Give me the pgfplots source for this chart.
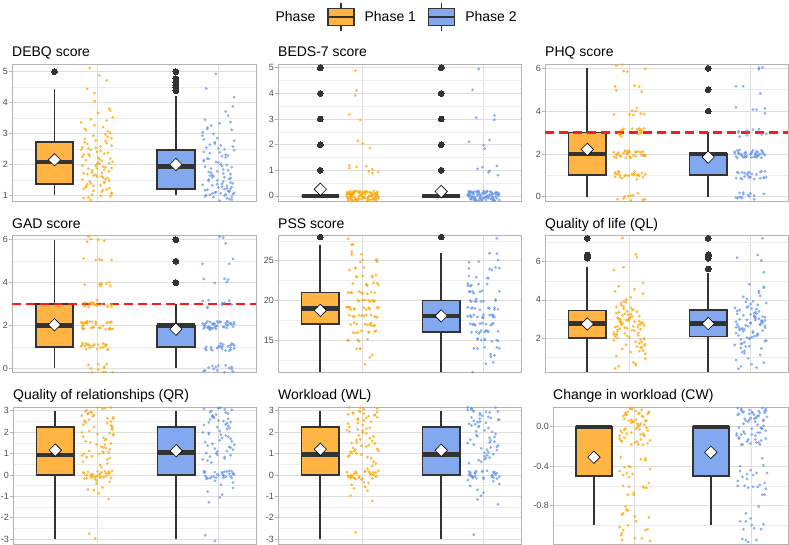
\documentclass[border=0pt]{standalone}
\usepackage{pgfplots}
\pgfplotsset{compat=1.18}
\usepackage{pgfplotstable}
\usepgfplotslibrary{statistics}
\usepackage{fontspec}
\setmainfont{Liberation Sans}
\definecolor{boxc}{HTML}{333333}
\definecolor{orb}{HTML}{FFB443}
\definecolor{blb}{HTML}{82A8F0}
\definecolor{orp}{HTML}{FFA500}
\definecolor{blp}{HTML}{6495ED}
\definecolor{gridc}{HTML}{DEDEDE}
\definecolor{mgridc}{HTML}{ECECEC}
\definecolor{bordc}{HTML}{B3B3B3}
\definecolor{tickc}{HTML}{4D4D4D}
\definecolor{redl}{HTML}{FF1A1A}

% horizontal jitter offsets
\pgfplotstableread[row sep=\\]{dx\\
-0.11\\0.04\\0.12\\-0.03\\0.08\\-0.07\\0.01\\0.10\\-0.12\\0.06\\
-0.01\\0.09\\-0.09\\0.03\\-0.05\\0.11\\-0.02\\0.07\\-0.10\\0.00\\
0.05\\-0.08\\0.12\\-0.04\\0.02\\-0.11\\0.09\\-0.06\\0.10\\-0.03\\
0.06\\-0.12\\0.01\\0.08\\-0.07\\0.04\\-0.09\\0.11\\-0.01\\0.03\\
-0.10\\0.07\\-0.05\\0.12\\-0.02\\0.05\\-0.08\\0.00\\0.10\\-0.13\\
0.02\\-0.06\\0.09\\-0.04\\0.13\\-0.11\\0.06\\-0.01\\0.08\\-0.09\\
0.03\\-0.07\\0.11\\-0.03\\0.01\\-0.12\\0.07\\-0.05\\0.04\\0.10\\
-0.08\\0.00\\0.12\\-0.10\\0.05\\-0.02\\0.09\\-0.06\\0.02\\-0.11\\
0.08\\-0.04\\0.13\\-0.09\\0.06\\-0.01\\0.03\\-0.12\\0.11\\-0.07\\
0.00\\0.07\\-0.03\\0.10\\-0.08\\0.04\\-0.13\\0.05\\-0.05\\0.12\\
}\jda
\pgfplotstableread[row sep=\\]{dx\\
0.07\\-0.12\\0.02\\0.11\\-0.05\\0.09\\-0.09\\-0.01\\0.13\\-0.07\\
0.04\\-0.11\\0.08\\0.00\\-0.04\\0.12\\-0.08\\0.05\\-0.13\\0.10\\
-0.02\\0.06\\-0.10\\0.03\\0.11\\-0.06\\0.01\\-0.12\\0.09\\-0.03\\
0.12\\-0.08\\0.05\\-0.05\\0.08\\-0.11\\0.02\\0.10\\-0.01\\-0.09\\
0.06\\-0.04\\0.13\\-0.13\\0.03\\0.07\\-0.07\\0.11\\-0.02\\0.04\\
-0.10\\0.09\\-0.06\\0.01\\0.12\\-0.12\\0.05\\-0.03\\0.10\\0.00\\
-0.09\\0.08\\-0.05\\0.13\\-0.01\\0.06\\-0.11\\0.03\\-0.07\\0.11\\
0.02\\-0.13\\0.07\\-0.04\\0.09\\-0.08\\0.04\\0.12\\-0.10\\0.01\\
-0.06\\0.10\\-0.12\\0.05\\-0.02\\0.11\\-0.09\\0.07\\0.00\\-0.05\\
0.13\\-0.03\\0.08\\-0.11\\0.03\\-0.07\\0.06\\-0.01\\0.10\\-0.08\\
}\jdb
\newcommand\jcopy[2]{\pgfplotstablecreatecol[copy column from table={#2}{dx}]{dx}{#1}}

% DEBQ
\pgfplotstableread[row sep=\\]{y\\
2.31\\1.12\\2.85\\1.64\\3.42\\0.93\\2.07\\1.78\\2.56\\1.41\\
1.95\\3.08\\1.27\\2.44\\0.86\\2.19\\4.31\\1.53\\2.72\\1.88\\
3.21\\1.36\\2.61\\1.02\\2.03\\1.71\\2.38\\5.12\\1.47\\2.93\\
1.83\\2.25\\3.67\\1.19\\2.52\\1.62\\2.14\\0.97\\2.78\\1.33\\
3.15\\1.91\\2.47\\1.08\\4.05\\1.58\\2.66\\2.01\\1.24\\3.36\\
2.17\\1.45\\2.89\\1.74\\3.53\\0.91\\2.35\\1.67\\4.72\\1.29\\
2.58\\1.86\\3.02\\1.15\\2.22\\1.51\\2.97\\1.39\\2.12\\3.81\\
1.69\\2.41\\1.05\\2.83\\1.93\\3.27\\1.56\\2.28\\4.88\\1.21\\
2.69\\1.81\\2.09\\3.11\\1.43\\2.54\\0.99\\1.97\\3.74\\2.33\\
1.61\\2.76\\1.31\\2.05\\4.44\\1.73\\2.48\\1.17\\3.46\\1.89\\
}\debqa
\pgfplotstableread[row sep=\\]{y\\
1.23\\2.41\\1.07\\3.12\\1.58\\0.88\\2.19\\1.36\\2.77\\1.02\\
1.84\\3.45\\1.15\\2.06\\0.94\\2.58\\1.47\\1.21\\2.93\\1.69\\
1.11\\2.32\\4.46\\1.29\\1.91\\3.26\\0.83\\2.14\\1.53\\2.67\\
1.04\\1.76\\2.49\\1.33\\3.58\\0.97\\2.01\\1.42\\2.85\\1.18\\
2.23\\1.62\\1.08\\3.04\\1.95\\0.91\\2.37\\1.27\\4.93\\1.71\\
2.54\\1.14\\1.87\\3.33\\1.39\\2.11\\0.99\\2.72\\1.56\\1.25\\
3.19\\1.81\\1.06\\2.46\\1.49\\3.71\\1.17\\2.27\\1.64\\0.86\\
2.62\\1.34\\1.98\\2.99\\1.12\\2.18\\1.45\\3.88\\1.01\\2.39\\
1.74\\1.22\\2.81\\1.59\\2.08\\0.95\\3.15\\1.31\\2.52\\1.66\\
4.18\\1.09\\2.29\\1.93\\1.38\\2.64\\1.03\\1.78\\3.37\\1.51\\
}\debqb
% BEDS-7
\pgfplotstableread[row sep=\\]{y\\
0.12\\-0.07\\0.18\\1.08\\-0.15\\0.03\\-0.11\\0.16\\0.07\\-0.02\\
2.15\\-0.18\\0.09\\-0.04\\0.14\\-0.13\\0.01\\0.19\\0.94\\-0.09\\
0.06\\-0.16\\0.11\\-0.01\\3.18\\0.15\\-0.12\\0.04\\-0.06\\0.17\\
-0.19\\0.08\\1.13\\-0.03\\0.13\\-0.14\\0.02\\0.10\\-0.08\\0.19\\
3.92\\-0.17\\0.05\\-0.10\\0.16\\-0.05\\0.00\\1.19\\0.14\\-0.12\\
0.07\\-0.18\\1.87\\0.03\\-0.07\\0.11\\-0.15\\0.18\\-0.01\\0.09\\
-0.13\\0.05\\0.96\\-0.04\\0.15\\-0.11\\0.01\\0.12\\-0.16\\0.06\\
2.96\\-0.02\\0.17\\-0.09\\0.04\\1.04\\-0.19\\0.13\\-0.06\\0.10\\
0.02\\-0.14\\0.16\\4.12\\-0.08\\0.08\\-0.12\\0.19\\2.04\\-0.03\\
0.14\\1.16\\-0.17\\0.06\\-0.10\\0.11\\4.89\\-0.05\\0.18\\0.88\\
}\bedsa
\pgfplotstableread[row sep=\\]{y\\
-0.09\\0.14\\-0.03\\0.18\\-0.16\\0.07\\1.12\\-0.11\\0.02\\0.16\\
-0.06\\0.11\\-0.19\\0.05\\2.18\\-0.01\\0.13\\-0.14\\0.09\\-0.07\\
0.19\\-0.12\\0.04\\0.92\\-0.17\\0.10\\-0.04\\0.15\\-0.10\\0.01\\
3.05\\0.12\\-0.15\\0.06\\-0.02\\0.17\\-0.18\\0.08\\1.85\\-0.08\\
0.14\\-0.13\\0.03\\0.18\\-0.05\\1.06\\-0.16\\0.11\\-0.01\\0.07\\
-0.11\\0.16\\4.14\\-0.09\\0.02\\0.13\\-0.19\\0.09\\-0.06\\2.97\\
0.05\\-0.14\\0.17\\-0.03\\0.10\\0.81\\-0.12\\0.04\\-0.17\\0.15\\
-0.07\\0.19\\2.11\\-0.02\\0.08\\-0.15\\0.12\\-0.10\\0.00\\1.17\\
0.16\\-0.04\\0.06\\3.14\\-0.18\\0.14\\-0.08\\0.03\\-0.13\\0.11\\
1.98\\-0.05\\0.18\\-0.11\\0.07\\4.95\\-0.16\\0.01\\0.98\\0.13\\
}\bedsb
% PHQ
\pgfplotstableread[row sep=\\]{y\\
2.12\\0.93\\3.18\\-0.15\\2.03\\3.89\\1.16\\2.07\\5.98\\2.82\\
1.09\\1.96\\5.14\\1.87\\0.01\\3.19\\0.91\\2.06\\3.84\\1.11\\
1.99\\3.15\\-0.12\\1.04\\1.94\\6.17\\1.81\\1.08\\2.97\\2.13\\
3.86\\1.02\\2.10\\-0.08\\3.19\\1.83\\1.05\\4.90\\2.16\\2.95\\
1.00\\2.14\\-0.12\\2.07\\3.82\\1.03\\2.93\\2.11\\5.85\\1.18\\
1.99\\3.09\\0.87\\0.05\\1.96\\5.15\\1.89\\1.01\\3.12\\3.84\\
2.06\\0.98\\3.17\\1.91\\0.04\\0.81\\6.13\\1.94\\3.10\\0.92\\
4.02\\1.86\\0.16\\0.97\\2.08\\2.88\\5.19\\1.90\\1.06\\-0.17\\
3.11\\1.95\\1.14\\3.99\\2.03\\-0.15\\1.18\\2.93\\2.09\\5.87\\
1.05\\1.82\\3.12\\4.96\\0.07\\1.89\\4.15\\0.98\\3.01\\1.91\\
}\phqa
\pgfplotstableread[row sep=\\]{y\\
1.99\\2.09\\0.87\\0.05\\1.96\\3.15\\0.89\\2.01\\4.12\\1.84\\
1.06\\-0.02\\2.17\\1.91\\1.04\\1.81\\3.13\\-0.06\\2.10\\0.92\\
2.02\\0.86\\5.16\\1.97\\0.08\\0.88\\2.19\\1.90\\3.06\\0.83\\
0.11\\1.95\\1.14\\1.99\\6.03\\1.85\\1.18\\-0.07\\2.09\\2.87\\
2.05\\0.82\\2.12\\-0.04\\4.07\\1.89\\1.15\\1.98\\3.01\\0.91\\
1.12\\1.93\\0.18\\1.85\\2.03\\0.89\\5.16\\2.07\\-0.02\\1.82\\
3.09\\1.96\\1.14\\1.87\\0.01\\1.19\\1.91\\4.06\\1.84\\1.11\\
1.99\\0.15\\1.88\\6.04\\0.94\\2.17\\2.81\\2.08\\0.97\\0.13\\
0.86\\2.02\\2.10\\2.92\\0.19\\1.83\\1.05\\3.90\\2.16\\5.95\\
2.00\\1.14\\-0.12\\2.07\\4.82\\2.03\\2.93\\1.11\\1.85\\4.18\\
}\phqb
% GAD
\pgfplotstableread[row sep=\\]{y\\
1.86\\3.02\\1.10\\3.92\\2.19\\-0.17\\5.05\\2.90\\2.16\\0.95\\
6.00\\2.14\\2.88\\1.07\\-0.18\\2.03\\3.93\\1.11\\1.85\\3.18\\
-0.01\\1.09\\1.87\\5.05\\2.96\\2.15\\0.89\\0.01\\2.12\\3.84\\
1.06\\2.98\\2.17\\5.91\\1.04\\-0.19\\2.13\\2.94\\1.10\\1.92\\
4.02\\2.86\\1.16\\1.97\\5.08\\1.88\\0.19\\0.90\\3.06\\1.83\\
1.11\\5.95\\2.14\\2.99\\1.03\\3.85\\2.18\\-0.07\\2.09\\0.87\\
3.05\\1.82\\5.12\\0.96\\2.07\\2.89\\0.15\\1.98\\1.01\\3.91\\
2.12\\2.93\\1.18\\1.85\\6.03\\1.89\\1.16\\0.07\\2.98\\1.82\\
1.09\\3.96\\2.14\\0.87\\3.01\\0.19\\1.91\\5.06\\1.84\\1.11\\
2.99\\6.15\\1.88\\1.04\\3.94\\2.17\\-0.19\\3.08\\0.97\\2.13\\
}\gada
\pgfplotstableread[row sep=\\]{y\\
4.02\\1.86\\1.16\\2.97\\2.08\\4.88\\2.19\\-0.10\\1.06\\1.83\\
6.11\\1.95\\4.14\\0.99\\2.03\\-0.15\\3.18\\1.93\\2.09\\0.87\\
0.05\\0.82\\2.12\\2.96\\2.07\\0.89\\6.15\\1.98\\0.01\\1.91\\
1.12\\1.93\\4.18\\1.85\\1.03\\-0.11\\2.16\\1.07\\1.98\\2.82\\
2.09\\-0.04\\2.14\\4.87\\1.01\\2.19\\1.91\\0.06\\1.84\\1.11\\
0.99\\3.15\\1.88\\1.04\\1.94\\4.17\\-0.19\\2.08\\0.97\\2.13\\
2.86\\2.02\\0.10\\0.92\\2.19\\5.83\\2.05\\0.90\\2.16\\-0.05\\
1.00\\3.14\\1.88\\2.07\\0.82\\0.03\\1.93\\5.11\\0.85\\2.18\\
0.99\\2.09\\-0.13\\3.05\\1.96\\1.15\\1.89\\2.01\\0.12\\0.84\\
2.06\\3.98\\2.17\\0.91\\3.04\\1.81\\0.13\\0.94\\2.10\\1.92\\
}\gadb
% PSS
\pgfplotstableread[row sep=\\]{y\\
19.12\\16.93\\22.18\\14.85\\20.03\\17.89\\24.16\\16.07\\20.98\\12.82\\
18.09\\19.96\\26.14\\18.87\\17.01\\23.19\\13.91\\21.06\\18.84\\25.11\\
15.99\\22.15\\17.88\\20.04\\11.94\\19.17\\16.81\\24.08\\20.97\\18.13\\
19.86\\15.02\\19.10\\22.92\\17.19\\20.83\\27.05\\17.90\\16.16\\21.95\\
21.00\\18.14\\13.88\\19.07\\24.82\\20.03\\15.93\\23.11\\16.85\\19.18\\
16.99\\24.09\\19.87\\15.05\\21.96\\18.15\\18.89\\21.01\\13.12\\25.84\\
22.06\\18.98\\16.17\\19.91\\18.04\\27.81\\17.13\\22.94\\15.10\\19.92\\
18.02\\20.86\\25.16\\16.97\\19.08\\13.88\\22.19\\15.90\\20.06\\23.83\\
23.11\\15.95\\19.14\\20.99\\17.03\\25.85\\18.18\\14.93\\25.09\\18.87\\
20.05\\16.82\\21.12\\17.96\\27.07\\21.89\\19.15\\15.98\\23.01\\24.91\\
}\pssa
\pgfplotstableread[row sep=\\]{y\\
18.99\\16.09\\19.87\\17.05\\25.96\\21.15\\17.89\\15.01\\22.12\\23.84\\
22.06\\14.98\\18.17\\19.91\\16.04\\24.81\\17.13\\13.94\\24.10\\17.92\\
17.02\\19.86\\24.16\\15.97\\18.08\\12.88\\21.19\\14.90\\19.06\\22.83\\
21.11\\17.95\\15.14\\18.99\\17.03\\27.85\\16.18\\21.93\\14.09\\18.87\\
16.05\\22.82\\19.12\\13.96\\21.07\\16.89\\18.15\\19.98\\12.01\\24.91\\
20.12\\16.93\\13.18\\17.85\\24.03\\18.89\\15.16\\22.07\\15.98\\17.82\\
19.09\\13.96\\18.14\\21.87\\16.01\\20.19\\25.91\\17.06\\14.84\\21.11\\
14.99\\21.15\\16.88\\19.04\\10.94\\18.17\\15.81\\23.08\\19.97\\17.13\\
16.86\\19.02\\25.10\\17.92\\16.19\\21.83\\13.05\\19.90\\18.16\\23.95\\
18.00\\16.14\\20.88\\14.07\\18.82\\17.03\\22.93\\15.11\\19.85\\12.18\\
}\pssb
% QL
\pgfplotstableread[row sep=\\]{y\\
2.84\\1.62\\3.41\\2.17\\0.58\\3.02\\2.46\\4.13\\1.88\\2.69\\
3.27\\1.35\\2.91\\2.03\\4.56\\2.58\\1.74\\3.66\\0.92\\2.35\\
3.12\\2.76\\1.49\\3.88\\2.21\\6.24\\2.97\\1.95\\3.35\\2.62\\
0.41\\2.88\\3.54\\1.81\\2.49\\4.32\\2.11\\3.07\\1.27\\2.73\\
3.19\\2.39\\5.56\\1.68\\2.95\\3.72\\2.27\\1.06\\3.46\\2.55\\
2.81\\4.71\\1.57\\3.23\\2.07\\2.66\\3.91\\0.74\\2.44\\3.09\\
1.91\\2.99\\6.38\\2.31\\3.58\\1.43\\2.78\\4.02\\2.15\\3.31\\
2.52\\1.18\\3.83\\2.86\\0.53\\3.15\\2.24\\4.44\\1.79\\2.93\\
3.38\\2.61\\1.98\\5.71\\2.41\\3.63\\1.52\\2.71\\3.04\\0.66\\
2.19\\3.49\\2.83\\4.88\\1.65\\2.57\\7.24\\3.24\\2.01\\1.31\\
}\qla
\pgfplotstableread[row sep=\\]{y\\
2.71\\3.36\\1.84\\2.95\\4.21\\2.48\\0.63\\3.12\\2.26\\3.74\\
1.58\\2.83\\3.47\\2.09\\1.21\\4.63\\2.62\\3.01\\0.39\\2.77\\
3.28\\1.93\\2.54\\3.89\\2.34\\6.21\\1.46\\3.19\\2.88\\4.05\\
2.17\\0.85\\3.55\\2.69\\1.72\\3.08\\2.43\\5.45\\1.99\\3.31\\
2.58\\4.37\\1.33\\2.92\\3.66\\2.12\\0.52\\3.24\\2.79\\1.64\\
3.93\\2.36\\6.07\\2.66\\1.87\\3.42\\2.23\\4.82\\1.12\\2.98\\
3.17\\2.51\\0.71\\3.61\\2.05\\2.86\\4.47\\1.79\\3.05\\2.39\\
1.48\\3.79\\2.64\\2.14\\3.51\\0.94\\2.91\\4.16\\2.29\\3.26\\
2.73\\1.56\\3.83\\2.47\\6.35\\1.96\\3.14\\2.57\\4.69\\1.27\\
2.81\\3.39\\2.02\\7.22\\1.69\\2.94\\3.58\\0.46\\2.45\\3.09\\
}\qlb
% QR
\pgfplotstableread[row sep=\\]{y\\
0.08\\2.35\\-0.12\\1.47\\2.91\\0.15\\0.83\\-0.05\\2.62\\1.12\\
3.08\\-0.17\\0.54\\1.91\\0.02\\2.18\\-0.68\\1.03\\2.77\\0.11\\
-0.09\\1.62\\2.46\\0.36\\3.15\\-0.03\\0.97\\1.79\\-1.12\\2.24\\
0.19\\2.85\\1.28\\-0.14\\0.72\\2.53\\0.06\\1.95\\-0.41\\3.02\\
1.41\\-0.07\\2.69\\0.91\\0.13\\1.67\\-2.74\\2.31\\-0.19\\1.08\\
2.97\\0.04\\1.52\\-0.85\\2.12\\0.61\\-0.11\\2.81\\1.19\\0.17\\
-0.01\\2.42\\0.88\\1.86\\-0.26\\3.11\\0.09\\1.33\\2.58\\-0.15\\
0.47\\1.99\\-0.06\\2.73\\1.06\\0.14\\-0.58\\2.27\\1.57\\-0.02\\
2.93\\0.79\\0.12\\1.74\\-2.96\\2.49\\-0.16\\1.25\\3.14\\0.03\\
1.89\\-0.71\\2.64\\0.98\\-0.09\\2.05\\0.18\\1.43\\-0.32\\2.86\\
}\qra
\pgfplotstableread[row sep=\\]{y\\
-0.04\\2.51\\1.18\\0.13\\2.86\\-0.15\\1.62\\0.92\\3.09\\-0.08\\
2.23\\0.06\\1.37\\-0.92\\2.74\\0.17\\1.01\\2.41\\-0.11\\3.13\\
0.84\\1.91\\0.02\\2.67\\-0.46\\1.54\\0.19\\2.98\\-0.06\\1.23\\
2.36\\0.11\\-1.05\\1.78\\2.59\\-0.13\\0.67\\3.04\\1.09\\0.08\\
-0.18\\2.14\\1.46\\-0.61\\2.82\\0.15\\1.96\\-0.02\\2.47\\0.73\\
3.14\\-0.09\\1.31\\2.69\\0.04\\-2.81\\1.84\\0.94\\2.28\\-0.16\\
0.12\\2.93\\1.57\\-0.27\\2.05\\0.18\\1.12\\2.77\\-0.05\\1.69\\
-1.28\\2.54\\0.09\\1.02\\3.07\\-0.12\\2.19\\0.58\\1.88\\0.14\\
2.62\\-0.07\\1.41\\-0.78\\2.91\\0.03\\1.73\\2.33\\-0.14\\0.86\\
3.11\\0.16\\-3.08\\1.27\\2.45\\-0.01\\1.99\\0.77\\2.71\\-0.35\\
}\qrb
% WL
\pgfplotstableread[row sep=\\]{y\\
0.11\\2.42\\-0.08\\1.33\\2.87\\0.04\\0.95\\-0.13\\2.69\\1.18\\
3.06\\-0.02\\0.61\\1.84\\0.16\\2.25\\-0.55\\1.11\\2.81\\-0.17\\
0.07\\1.58\\2.39\\0.29\\3.13\\-0.06\\1.02\\1.71\\-0.97\\2.16\\
0.14\\2.93\\1.36\\-0.11\\0.78\\2.58\\0.01\\2.02\\-0.33\\2.98\\
1.47\\-0.15\\2.74\\0.86\\0.18\\1.63\\-1.21\\2.34\\-0.04\\1.14\\
2.95\\0.09\\1.49\\-0.74\\2.09\\0.53\\-0.19\\2.86\\1.26\\0.12\\
-0.07\\2.48\\0.91\\1.93\\-0.21\\3.09\\0.05\\1.39\\2.63\\-0.12\\
0.42\\2.07\\-0.03\\2.78\\1.01\\0.15\\-0.46\\2.21\\1.66\\-0.09\\
2.91\\0.83\\0.13\\1.79\\-2.68\\2.54\\-0.14\\1.22\\3.15\\0.02\\
1.97\\-0.63\\2.67\\1.08\\-0.16\\2.12\\0.19\\1.51\\-0.38\\2.83\\
}\wla
\pgfplotstableread[row sep=\\]{y\\
-0.06\\2.57\\1.24\\0.12\\2.92\\-0.14\\1.55\\0.87\\3.04\\-0.03\\
2.28\\0.08\\1.42\\-0.83\\2.71\\0.16\\0.97\\2.46\\-0.09\\3.11\\
0.79\\1.86\\0.03\\2.63\\-0.51\\1.61\\0.18\\2.96\\-0.11\\1.17\\
2.39\\0.13\\-1.14\\1.73\\2.52\\-0.17\\0.62\\3.07\\1.03\\0.06\\
-0.15\\2.19\\1.49\\-0.42\\2.88\\0.11\\2.01\\-0.04\\2.43\\0.69\\
3.14\\-0.08\\1.28\\2.76\\0.01\\-1.37\\1.81\\0.92\\2.31\\-0.18\\
0.14\\2.97\\1.52\\-0.24\\2.08\\0.17\\1.16\\2.82\\-0.02\\1.64\\
-0.97\\2.59\\0.07\\1.06\\3.01\\-0.13\\2.24\\0.55\\1.92\\0.15\\
2.66\\-0.05\\1.37\\-0.69\\2.94\\0.04\\1.77\\2.36\\-0.12\\0.81\\
3.16\\0.19\\-2.79\\1.31\\2.49\\-0.07\\2.04\\0.73\\2.68\\-0.29\\
}\wlb
% CW
\pgfplotstableread[row sep=\\]{y\\
0.12\\-0.57\\0.18\\-1.15\\0.03\\-0.11\\-0.34\\0.07\\-1.02\\-0.18\\
-0.41\\-0.04\\0.14\\-1.13\\0.01\\-0.31\\-0.09\\0.06\\-1.16\\0.11\\
-0.01\\-0.85\\-0.62\\0.04\\-0.06\\0.17\\-0.69\\-0.92\\-0.03\\0.13\\
-0.14\\0.02\\-0.40\\-0.08\\-0.81\\-0.17\\0.05\\-0.60\\0.16\\-1.05\\
-1.00\\0.14\\-0.12\\-0.43\\-0.18\\-0.47\\-0.07\\-0.89\\-0.15\\0.18\\
-0.01\\-0.41\\-1.13\\0.05\\-0.04\\0.15\\-0.61\\0.01\\-0.88\\-0.16\\
0.06\\-0.02\\-0.33\\-0.09\\-0.96\\-0.69\\0.13\\-0.06\\0.10\\-1.08\\
-0.48\\-0.14\\-0.84\\-0.03\\0.08\\-0.62\\0.19\\-1.10\\0.06\\-0.67\\
0.11\\-1.05\\0.14\\-0.51\\0.03\\-0.15\\-0.32\\-0.07\\-0.91\\-0.13\\
-0.45\\-0.18\\0.12\\-1.04\\0.07\\-0.61\\0.15\\-0.02\\-0.49\\-0.09\\
}\cwa
\pgfplotstableread[row sep=\\]{y\\
-0.01\\0.09\\-0.63\\0.05\\-1.04\\0.15\\-0.61\\0.01\\0.12\\-0.16\\
-0.44\\-0.02\\0.17\\-0.09\\-0.96\\-0.69\\0.13\\-0.06\\-0.40\\-0.08\\
0.02\\-1.14\\0.16\\-0.53\\0.08\\-0.12\\0.19\\-0.60\\0.06\\-1.17\\
0.11\\-0.55\\0.14\\-0.01\\0.03\\-1.15\\0.18\\-0.57\\0.09\\-0.13\\
-0.45\\-0.18\\-0.88\\-0.04\\0.07\\-0.61\\0.15\\-0.02\\-0.99\\-0.09\\
0.12\\-0.07\\-0.32\\-0.15\\-0.47\\-0.11\\0.16\\-0.93\\-0.02\\-0.18\\
0.09\\-1.04\\0.14\\-0.13\\-0.49\\0.19\\-0.59\\0.06\\-0.16\\-0.39\\
-0.51\\0.15\\-0.12\\-0.96\\-0.06\\0.17\\-0.69\\0.08\\-1.03\\0.13\\
-0.14\\-0.48\\0.10\\-0.08\\-0.81\\-0.17\\0.05\\-0.60\\0.16\\-0.05\\
-1.00\\0.14\\-0.62\\0.07\\-0.18\\-0.47\\-0.07\\0.11\\-1.15\\0.18\\
}\cwb

\jcopy{\debqa}{\jda}\jcopy{\debqb}{\jdb}
\jcopy{\bedsa}{\jdb}\jcopy{\bedsb}{\jda}
\jcopy{\phqa}{\jdb}\jcopy{\phqb}{\jda}
\jcopy{\gada}{\jda}\jcopy{\gadb}{\jdb}
\jcopy{\pssa}{\jda}\jcopy{\pssb}{\jdb}
\jcopy{\qla}{\jdb}\jcopy{\qlb}{\jda}
\jcopy{\qra}{\jdb}\jcopy{\qrb}{\jda}
\jcopy{\wla}{\jda}\jcopy{\wlb}{\jdb}
\jcopy{\cwa}{\jdb}\jcopy{\cwb}{\jda}

\pgfplotsset{
  panel/.style={
    scale only axis, height=137pt,
    xmin=0.30, xmax=2.31,
    xtick={1,2}, xticklabels={}, xmajorgrids,
    ymajorgrids, yminorgrids,
    major grid style={draw=gridc, line width=0.7pt},
    minor grid style={draw=mgridc, line width=0.45pt},
    axis line style={draw=bordc, line width=0.8pt},
    tick align=outside, ytick pos=left, xtick pos=bottom,
    major tick length=2.75pt, minor tick length=0pt,
    xtick style={draw=none},
    ytick style={draw=bordc, line width=0.7pt},
    yticklabel style={font=\fontsize{9}{9}\selectfont, text=tickc, inner xsep=1.2pt},
    every axis title shift=0pt,
    title style={at={(0,1)}, anchor=base west, yshift=7pt, inner sep=0pt, font=\fontsize{14}{16}\selectfont},
  },
  jit1/.style={only marks, mark=*, color=orp, mark size=1.35pt, mark options={line width=0.1pt, opacity=0.72}},
  jit2/.style={only marks, mark=*, color=blp, mark size=1.35pt, mark options={line width=0.1pt, opacity=0.72}},
  bx/.style={boxplot prepared={draw direction=y, box extend=0.31, whisker extend=0, #1}, draw=boxc, line width=1.8pt, solid, mark=*, mark size=2.9pt, mark options={draw=boxc, fill=boxc, line width=0pt}},
  boxplot/every median/.style={line width=4.4pt},
  meanpt/.style={only marks, mark=diamond*, mark size=6.2pt, mark options={fill=white, draw=black, line width=0.6pt, xscale=1.33}},
  refline/.style={draw=redl, line width=2.2pt, dash pattern=on 9pt off 5pt},
}

\begin{document}
\begin{tikzpicture}
\useasboundingbox (0pt,0pt) rectangle (789pt,545pt);

% legend
\begin{axis}[hide axis, scale only axis, width=789pt, height=20pt, at={(0pt,518pt)}, anchor=south west,
  xmin=0, xmax=1, ymin=0, ymax=1,
  legend style={at={(0.497,0.5)}, anchor=center, draw=none, fill=none, legend columns=3,
    font=\fontsize{14}{16}\selectfont,
    /tikz/every odd column/.append style={column sep=8pt},
    /tikz/every even column/.append style={column sep=10pt}},
  legend cell align=left]
\addlegendimage{empty legend}
\addlegendentry{Phase}
\addlegendimage{legend image code/.code={
  \draw[draw=boxc, line width=1.3pt] (14pt,-14pt) -- (14pt,14pt);
  \draw[draw=boxc, line width=1.3pt, fill=orb] (1pt,-8.5pt) rectangle (27pt,8.5pt);
  \draw[draw=boxc, line width=1.3pt] (1pt,0pt) -- (27pt,0pt);}}
\addlegendentry{Phase 1}
\addlegendimage{legend image code/.code={
  \draw[draw=boxc, line width=1.3pt] (14pt,-14pt) -- (14pt,14pt);
  \draw[draw=boxc, line width=1.3pt, fill=blb] (1pt,-8.5pt) rectangle (27pt,8.5pt);
  \draw[draw=boxc, line width=1.3pt] (1pt,0pt) -- (27pt,0pt);}}
\addlegendentry{Phase 2}
\end{axis}

% DEBQ
\begin{axis}[panel, width=244pt, at={(12pt,344pt)}, anchor=south west, title={DEBQ score},
  ymin=0.82, ymax=5.25, ytick={1,2,3,4,5}, yticklabels={1,2,3,4,5}, minor ytick={1.5,2.5,3.5,4.5}]
\addplot[jit1] table[x expr=1+\thisrow{dx}, y=y] {\debqa};
\addplot[jit2] table[x expr=2+\thisrow{dx}, y=y] {\debqb};
\addplot[bx={draw position=0.65, lower whisker=1, lower quartile=1.36, median=2.08, upper quartile=2.72, upper whisker=4.43}, fill=orb] table[row sep=\\, y index=0] {y\\ 5\\};
\addplot[bx={draw position=1.65, lower whisker=1, lower quartile=1.22, median=1.94, upper quartile=2.48, upper whisker=4.23}, fill=blb] table[row sep=\\, y index=0] {y\\ 4.39\\ 4.49\\ 4.57\\ 4.66\\ 4.77\\ 5\\};
\addplot[meanpt] coordinates {(0.65,2.15) (1.65,2.0)};
\end{axis}

% BEDS-7
\begin{axis}[panel, width=243pt, at={(278pt,344pt)}, anchor=south west, title={BEDS-7 score},
  ymin=-0.2, ymax=5.15, ytick={0,1,2,3,4,5}, yticklabels={0,1,2,3,4,5}, minor ytick={0.5,1.5,2.5,3.5,4.5}]
\addplot[jit1] table[x expr=1-\thisrow{dx}, y=y] {\bedsa};
\addplot[jit2] table[x expr=2-\thisrow{dx}, y=y] {\bedsb};
\addplot[bx={draw position=0.65, lower whisker=0, lower quartile=0, median=0, upper quartile=0, upper whisker=0}, fill=orb] table[row sep=\\, y index=0] {y\\ 1\\ 2\\ 3\\ 4\\ 5\\};
\addplot[bx={draw position=1.65, lower whisker=0, lower quartile=0, median=0, upper quartile=0, upper whisker=0}, fill=blb] table[row sep=\\, y index=0] {y\\ 1\\ 2\\ 3\\ 4\\ 5\\};
\addplot[meanpt] coordinates {(0.65,0.26) (1.65,0.17)};
\end{axis}

% PHQ
\begin{axis}[panel, width=243pt, at={(545pt,344pt)}, anchor=south west, title={PHQ score},
  ymin=-0.2, ymax=6.2, ytick={0,2,4,6}, yticklabels={0,2,4,6}, minor ytick={1,3,5}]
\addplot[jit1] table[x expr=1+\thisrow{dx}, y=y] {\phqa};
\addplot[jit2] table[x expr=2-\thisrow{dx}, y=y] {\phqb};
\addplot[bx={draw position=0.65, lower whisker=0, lower quartile=1, median=2, upper quartile=3, upper whisker=6}, fill=orb] coordinates {};
\addplot[bx={draw position=1.65, lower whisker=0, lower quartile=1, median=2, upper quartile=2, upper whisker=3}, fill=blb] table[row sep=\\, y index=0] {y\\ 4\\ 5\\ 6\\};
\addplot[refline] coordinates {(0.30,3) (2.31,3)};
\addplot[meanpt] coordinates {(0.65,2.21) (1.65,1.85)};
\end{axis}

% GAD
\begin{axis}[panel, width=244pt, at={(12pt,172.5pt)}, anchor=south west, title={GAD score},
  ymin=-0.2, ymax=6.2, ytick={0,2,4,6}, yticklabels={0,2,4,6}, minor ytick={1,3,5}]
\addplot[jit1] table[x expr=1-\thisrow{dx}, y=y] {\gada};
\addplot[jit2] table[x expr=2+\thisrow{dx}, y=y] {\gadb};
\addplot[bx={draw position=0.65, lower whisker=0, lower quartile=1, median=2, upper quartile=3, upper whisker=6}, fill=orb] coordinates {};
\addplot[bx={draw position=1.65, lower whisker=0, lower quartile=1, median=2, upper quartile=2, upper whisker=3}, fill=blb] table[row sep=\\, y index=0] {y\\ 4\\ 5\\ 6\\};
\addplot[refline] coordinates {(0.30,3) (2.31,3)};
\addplot[meanpt] coordinates {(0.65,2.03) (1.65,1.82)};
\end{axis}

% PSS
\begin{axis}[panel, width=243pt, at={(278pt,172.5pt)}, anchor=south west, title={PSS score},
  ymin=10.9, ymax=28.2, ytick={15,20,25}, yticklabels={15,20,25}, minor ytick={12.5,17.5,22.5,27.5}]
\addplot[jit1] table[x expr=1+\thisrow{dx}, y=y] {\pssa};
\addplot[jit2] table[x expr=2-\thisrow{dx}, y=y] {\pssb};
\addplot[bx={draw position=0.65, lower whisker=10.9, lower quartile=17, median=19, upper quartile=21, upper whisker=27}, fill=orb] table[row sep=\\, y index=0] {y\\ 28\\};
\addplot[bx={draw position=1.65, lower whisker=10.9, lower quartile=16, median=18, upper quartile=20, upper whisker=26}, fill=blb] table[row sep=\\, y index=0] {y\\ 28\\};
\addplot[meanpt] coordinates {(0.65,18.74) (1.65,18.05)};
\end{axis}

% QL
\begin{axis}[panel, width=243pt, at={(545pt,172.5pt)}, anchor=south west, title={Quality of life (QL)},
  ymin=0.2, ymax=7.37, ytick={2,4,6}, yticklabels={2,4,6}, minor ytick={1,3,5,7}]
\addplot[jit1] table[x expr=1-\thisrow{dx}, y=y] {\qla};
\addplot[jit2] table[x expr=2+\thisrow{dx}, y=y] {\qlb};
\addplot[bx={draw position=0.65, lower whisker=0.2, lower quartile=2.0, median=2.76, upper quartile=3.44, upper whisker=5.71}, fill=orb] table[row sep=\\, y index=0] {y\\ 6.18\\ 6.26\\ 6.35\\ 7.22\\};
\addplot[bx={draw position=1.65, lower whisker=0.2, lower quartile=2.08, median=2.76, upper quartile=3.46, upper whisker=5.39}, fill=blb] table[row sep=\\, y index=0] {y\\ 5.62\\ 6.18\\ 6.27\\ 6.36\\ 7.22\\};
\addplot[meanpt] coordinates {(0.65,2.74) (1.65,2.76)};
\end{axis}

% QR
\begin{axis}[panel, width=243pt, at={(13pt,1pt)}, anchor=south west, title={Quality of relationships (QR)},
  ymin=-3.22, ymax=3.17, ytick={-3,-2,-1,0,1,2,3}, yticklabels={-3,-2,-1,0,1,2,3}, minor ytick={-2.5,-1.5,-0.5,0.5,1.5,2.5}]
\addplot[jit1] table[x expr=1+\thisrow{dx}, y=y] {\qra};
\addplot[jit2] table[x expr=2+\thisrow{dx}, y=y] {\qrb};
\addplot[bx={draw position=0.65, lower whisker=-3, lower quartile=0, median=0.93, upper quartile=2.22, upper whisker=3}, fill=orb] coordinates {};
\addplot[bx={draw position=1.65, lower whisker=-3, lower quartile=0, median=1.04, upper quartile=2.22, upper whisker=3}, fill=blb] coordinates {};
\addplot[meanpt] coordinates {(0.65,1.16) (1.65,1.13)};
\end{axis}

% WL
\begin{axis}[panel, width=243pt, at={(278pt,1pt)}, anchor=south west, title={Workload (WL)},
  ymin=-3.22, ymax=3.17, ytick={-3,-2,-1,0,1,2,3}, yticklabels={-3,-2,-1,0,1,2,3}, minor ytick={-2.5,-1.5,-0.5,0.5,1.5,2.5}]
\addplot[jit1] table[x expr=1-\thisrow{dx}, y=y] {\wla};
\addplot[jit2] table[x expr=2-\thisrow{dx}, y=y] {\wlb};
\addplot[bx={draw position=0.65, lower whisker=-3, lower quartile=0, median=0.95, upper quartile=2.24, upper whisker=3}, fill=orb] coordinates {};
\addplot[bx={draw position=1.65, lower whisker=-3, lower quartile=0, median=0.95, upper quartile=2.24, upper whisker=3}, fill=blb] coordinates {};
\addplot[meanpt] coordinates {(0.65,1.2) (1.65,1.15)};
\end{axis}

% CW
\begin{axis}[panel, width=235pt, at={(553pt,1pt)}, anchor=south west, title={Change in workload (CW)},
  ymin=-1.19, ymax=0.2, ytick={-0.8,-0.4,0}, yticklabels={-0.8,-0.4,0.0}, minor ytick={-1.0,-0.6,-0.2}]
\addplot[jit1] table[x expr=1-\thisrow{dx}, y=y] {\cwa};
\addplot[jit2] table[x expr=2+\thisrow{dx}, y=y] {\cwb};
\addplot[bx={draw position=0.65, lower whisker=-1, lower quartile=-0.5, median=0, upper quartile=0, upper whisker=0}, fill=orb] coordinates {};
\addplot[bx={draw position=1.65, lower whisker=-1, lower quartile=-0.5, median=0, upper quartile=0, upper whisker=0}, fill=blb] coordinates {};
\addplot[meanpt] coordinates {(0.65,-0.31) (1.65,-0.26)};
\end{axis}
\end{tikzpicture}
\end{document}
